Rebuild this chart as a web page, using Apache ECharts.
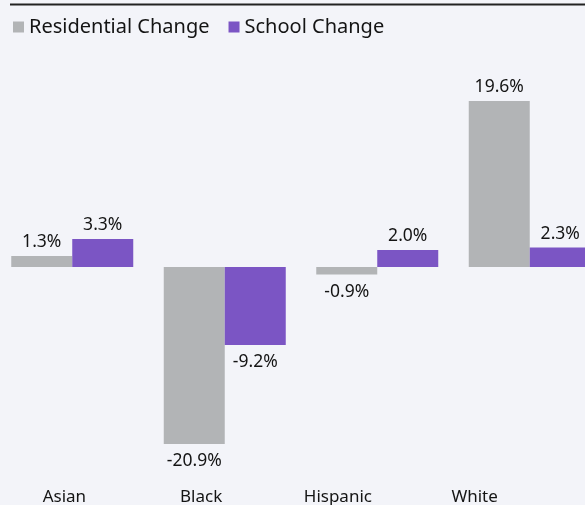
<!DOCTYPE html>
<html><head><meta charset="utf-8">
<script src="https://cdn.jsdelivr.net/npm/echarts@6/dist/echarts.min.js"></script>
<style>html,body{margin:0;padding:0;background:#f3f4f9;}#c{width:585px;height:505px;}</style>
</head><body><div id="c"></div>
<script>
const categories = ['Asian', 'Black', 'Hispanic', 'White'];
const residentialChange = [1.3, -20.9, -0.9, 19.6];
const schoolChange = [3.3, -9.2, 2.0, 2.3];
const seriesNames = ['Residential Change', 'School Change'];
const colors = ['#b2b4b6', '#7b55c4'];
const FONT = 'Noto Sans';

const chart = echarts.init(document.getElementById('c'));
function lbl(v) { return v.toFixed(1) + '%'; }
const mkSeries = (name, data, color) => ({
  name, type: 'bar', barGap: '0%', barCategoryGap: '20%',
  xAxisIndex: 0, yAxisIndex: 0,
  itemStyle: { color },
  data: data.map(v => ({ value: v, label: { position: v < 0 ? 'bottom' : 'top', distance: v < 0 ? 8 : 5 } })),
  label: {
    show: true, formatter: p => lbl(p.value),
    color: '#141414', fontSize: 17.5, fontFamily: FONT
  }
});

chart.setOption({
  backgroundColor: '#f3f4f9',
  animation: false,
  textStyle: { fontFamily: FONT },
  legend: {
    left: 8, top: 12, itemWidth: 11, itemHeight: 11, itemGap: 19,
    icon: 'rect',
    textStyle: { fontSize: 20, color: '#141414', fontFamily: FONT },
    data: seriesNames
  },
  graphic: [{ type: 'line', shape: { x1: 10, y1: 4.5, x2: 585, y2: 4.5 }, style: { stroke: '#222', lineWidth: 2 } }],
  grid: [
    { left: -4, right: -21, top: 55.25, bottom: 26.25, containLabel: false, outerBoundsMode: 'none' },
    { left: -4, right: 42, top: 55.25, bottom: 26.25, containLabel: false, outerBoundsMode: 'none' }
  ],
  xAxis: [
    { type: 'category', gridIndex: 0, data: categories, axisLine: { show: false }, axisTick: { show: false }, axisLabel: { show: false } },
    { type: 'category', gridIndex: 1, data: categories, position: 'bottom', axisLine: { show: false }, axisTick: { show: false },
      axisLabel: { show: true, margin: 10, fontSize: 17, color: '#141414', fontFamily: FONT } }
  ],
  yAxis: [
    { type: 'value', gridIndex: 0, min: -25, max: 25, show: false, splitLine: { show: false } },
    { type: 'value', gridIndex: 1, min: -25, max: 25, show: false, splitLine: { show: false } }
  ],
  series: [
    mkSeries(seriesNames[0], residentialChange, colors[0]),
    mkSeries(seriesNames[1], schoolChange, colors[1])
  ]
});
</script></body></html>
